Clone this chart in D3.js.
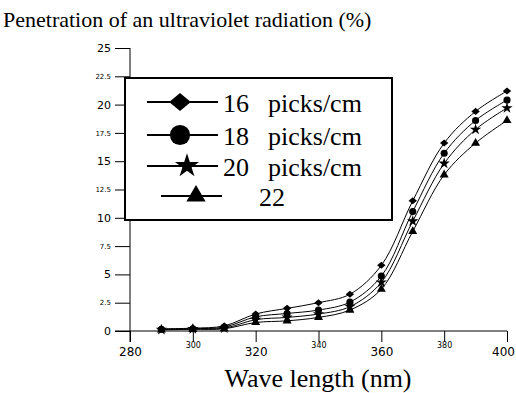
<!DOCTYPE html>
<html><head><meta charset="utf-8">
<script src="https://cdn.jsdelivr.net/npm/d3@7/dist/d3.min.js"></script>
<style>body{margin:0;background:#fff}svg{display:block}</style>
</head><body>
<svg id="c" width="516" height="393"></svg>
<script>
const wavelengths = [290,300,310,320,330,340,350,360,370,380,390,400];
const s16 = [0.2,0.25,0.45,1.5,2.0,2.5,3.25,5.8,11.5,16.6,19.4,21.2];
const s18 = [0.15,0.2,0.35,1.25,1.55,1.85,2.55,4.85,10.55,15.7,18.6,20.4];
const s20 = [0.12,0.18,0.25,1.0,1.2,1.5,2.15,4.3,9.7,14.8,17.8,19.7];
const s22 = [0.1,0.15,0.2,0.75,0.9,1.2,1.85,3.7,8.8,13.8,16.6,18.6];
const seriesLabels = ["16","18","20","22"];
const legendUnits = ["picks/cm","picks/cm","picks/cm",""];
const markerTypes = ["diamond","circle","star","triangle"];
const yTicks = [0,2.5,5,7.5,10,12.5,15,17.5,20,22.5,25];
const xTicks = [280,300,320,340,360,380,400];
const titleText = "Penetration of an ultraviolet radiation (%)";
const xTitle = "Wave length (nm)";

const svg = d3.select("#c");
const x = d3.scaleLinear().domain([280,400]).range([130,507]);
const y = d3.scaleLinear().domain([0,25]).range([331,48]);
const series = [s16,s18,s20,s22];

function diamondPath(w,h){ return `M0,${-h/2}L${w/2},0L0,${h/2}L${-w/2},0Z`; }
function sym(type, size){
  if(type==="diamond"){ const s=Math.sqrt(size); return diamondPath(s*1.25,s*1.05); }
  const t = {circle:d3.symbolCircle, star:d3.symbolStar, triangle:d3.symbolTriangle}[type];
  return d3.symbol().type(t).size(size)();
}

// title
svg.append("text").attr("x",3).attr("y",27).attr("font-family","Liberation Serif")
  .attr("font-size",22).text(titleText);

// y axis
const yAxis = svg.append("g").attr("transform","translate(130,0)")
  .call(d3.axisLeft(y).tickValues(yTicks).tickSize(15).tickPadding(4).tickFormat(d=>d));
yAxis.select(".domain").attr("stroke","#000").attr("d","M0,"+y(25)+"V"+(y(0)+11));
yAxis.selectAll(".tick text").attr("font-family","DejaVu Sans")
  .attr("font-size",d=>d%5===0?11:7).attr("fill","#000");
yAxis.selectAll(".tick line").attr("stroke","#000");

// x axis
const xAxis = svg.append("g").attr("transform","translate(0,331)")
  .call(d3.axisBottom(x).tickValues(xTicks).tickSize(11).tickPadding(0).tickFormat(d=>d));
xAxis.select(".domain").attr("stroke","#000").attr("d","M115,0H"+x(400));
xAxis.selectAll(".tick text").attr("font-family","DejaVu Sans")
  .attr("font-size",d=>d%40===0?12:8).attr("fill","#000")
  .attr("dy",null).attr("y",d=>d%40===0?25:17)
  .attr("dx",d=>d===400?-4:0);
xAxis.selectAll(".tick line").attr("stroke","#000");

// x title
svg.append("text").attr("x",318).attr("y",387).attr("text-anchor","middle")
  .attr("font-family","Liberation Serif").attr("font-size",26).text(xTitle);

// lines
const line = d3.line().x((d,i)=>x(wavelengths[i])).y(d=>y(d)).curve(d3.curveCatmullRom.alpha(0.5));
const msize = {diamond:45, circle:40, star:40, triangle:35};
series.forEach((s,k)=>{
  svg.append("path").attr("d",line(s)).attr("fill","none").attr("stroke","#000").attr("stroke-width",1);
  svg.append("g").selectAll("path").data(s).join("path")
    .attr("transform",(d,i)=>`translate(${x(wavelengths[i])},${y(d)})`)
    .attr("d",sym(markerTypes[k],msize[markerTypes[k]])).attr("fill","#000");
});

// legend
const lg = svg.append("g");
lg.append("rect").attr("x",125).attr("y",78).attr("width",267).attr("height",142)
  .attr("fill","#fff").attr("stroke","#000").attr("stroke-width",2);
const rowsY = [102,135,166,196];
const lsize = {diamond:300, circle:320, star:180, triangle:160};
seriesLabels.forEach((lab,k)=>{
  const last = k===3;
  const x1 = last?161:147, x2 = last?222:218, mx = last?196:(k===2?187:180);
  lg.append("line").attr("x1",x1).attr("x2",x2).attr("y1",rowsY[k]).attr("y2",rowsY[k])
    .attr("stroke","#000").attr("stroke-width",2);
  lg.append("path").attr("transform",`translate(${mx},${rowsY[k]})`)
    .attr("d",sym(markerTypes[k],lsize[markerTypes[k]])).attr("fill","#000");
  lg.append("text").attr("x",last?259:223).attr("y",rowsY[k]+10)
    .attr("font-family","Liberation Serif").attr("font-size",26).text(lab);
  if(legendUnits[k]) lg.append("text").attr("x",268).attr("y",rowsY[k]+10)
    .attr("font-family","Liberation Serif").attr("font-size",26).text(legendUnits[k]);
});
</script>
</body></html>
